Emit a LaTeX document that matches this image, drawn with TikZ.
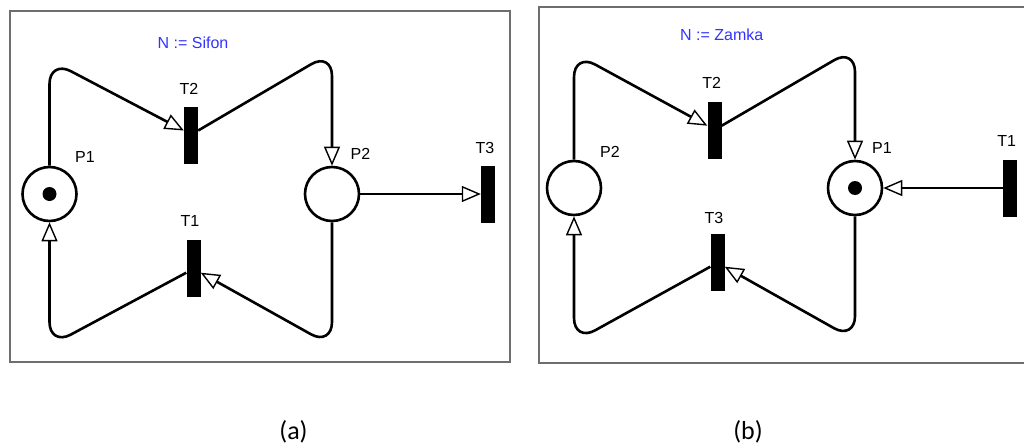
\documentclass[tikz,border=0pt]{standalone}
\usepackage{fontspec}
\setmainfont{Liberation Sans}
\newfontfamily\capfont{Carlito}
\usetikzlibrary{arrows.meta}
\definecolor{lbl}{RGB}{51,51,255}
\definecolor{frm}{RGB}{110,110,110}
\tikzset{
  place/.style={circle, draw, line width=2.6pt, minimum size=54pt, inner sep=0pt},
  trans/.style={rectangle, fill=black, minimum width=14pt, minimum height=57pt, inner sep=0pt},
  pnarc/.style={line width=2.6pt, rounded corners=24pt, -{Triangle[fill=white, length=19pt, width=16pt, line width=1.4pt]}},
  lab/.style={font=\fontsize{16}{18}\selectfont, inner sep=0pt},
  ttl/.style={lab, text=lbl},
  capt/.style={font=\capfont\fontsize{26}{30}\selectfont, inner sep=0pt},
  frame/.style={draw=frm, line width=1.8pt}
}
\begin{document}
\begin{tikzpicture}[x=1pt, y=-1pt]
\useasboundingbox (0,0) rectangle (1024,447);
% ---------- panel (a)
\draw[frame] (10,11) rectangle (510,362);
\node[ttl] (na) at (193,43) {N := Sifon};
\node[place] (p1a) at (49.5,194) {};
\fill (p1a.center) circle (7);
\node[place] (p2a) at (332,194) {};
\node[trans] (t2a) at (191,135.5) {};
\node[trans] (t1a) at (193.5,268.7) {};
\node[trans] (t3a) at (488,194) {};
\node[lab] (lt2a) at (189,89) {T2};
\node[lab] (lp1a) at (85,157) {P1};
\node[lab] (lp2a) at (360.5,154) {P2};
\node[lab] (lt3a) at (485,148) {T3};
\node[lab] (lt1a) at (190,221) {T1};
\coordinate (c1) at (49.5,60);
\coordinate (c2) at (332,52);
\coordinate (c3) at (332,346);
\coordinate (c4) at (49.5,346);
\draw[pnarc] (p1a.north) -- (c1) -- ([yshift=5pt]t2a.west);
\draw[pnarc] ([yshift=5pt]t2a.east) -- (c2) -- (p2a.north);
\draw[pnarc] (p2a.south) -- (c3) -- ([yshift=-4pt]t1a.east);
\draw[pnarc] ([yshift=-4pt]t1a.west) -- (c4) -- (p1a.south);
\draw[pnarc] (p2a.east) -- (t3a.west);
\node[capt] (capa) at (293.5,432) {(a)};
% ---------- panel (b)
\draw[frame] (1030,7) -- (539,7) -- (539,363) -- (1030,363);
\node[ttl] (nb) at (721.7,35) {N := Zamka};
\node[place] (p2b) at (574,188) {};
\node[place] (p1b) at (855,188) {};
\fill (p1b.center) circle (7);
\node[trans] (t2b) at (714.5,130.3) {};
\node[trans] (t3b) at (717.5,262) {};
\node[trans] (t1b) at (1009.7,188) {};
\node[lab] (lp2b) at (610,151.7) {P2};
\node[lab] (lt2b) at (711.7,83.3) {T2};
\node[lab] (lp1b) at (882,148) {P1};
\node[lab] (lt1b) at (1006.7,141) {T1};
\node[lab] (lt3b) at (714,218) {T3};
\coordinate (d1) at (574,53);
\coordinate (d2) at (855,48);
\coordinate (d3) at (855,340);
\coordinate (d4) at (574,342);
\draw[pnarc] (p2b.north) -- (d1) -- ([yshift=4.6pt]t2b.west);
\draw[pnarc] ([yshift=4.6pt]t2b.east) -- (d2) -- (p1b.north);
\draw[pnarc] (p1b.south) -- (d3) -- ([yshift=-4.7pt]t3b.east);
\draw[pnarc] ([yshift=-4.7pt]t3b.west) -- (d4) -- (p2b.south);
\draw[pnarc] (t1b.west) -- (p1b.east);
\node[capt] (capb) at (748,432) {(b)};
\end{tikzpicture}
\end{document}
